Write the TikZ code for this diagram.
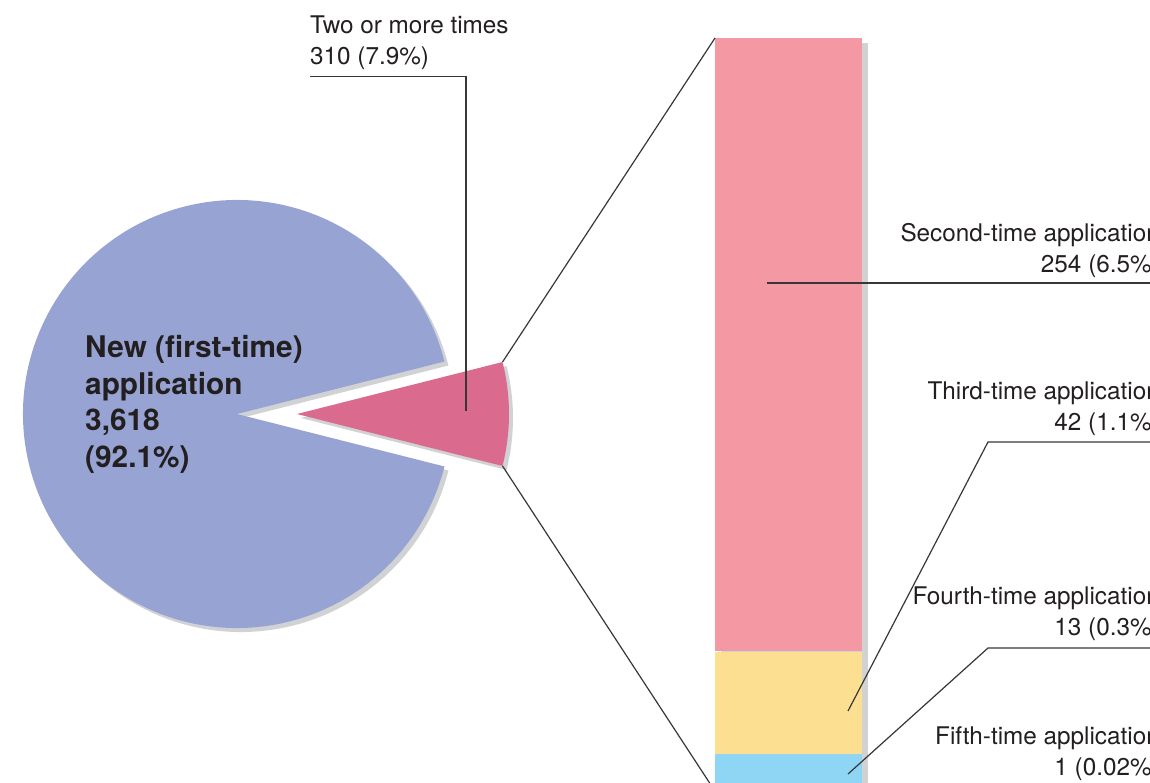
\documentclass[tikz,border=0pt]{standalone}
\usepackage{fontspec}
\setmainfont{TeX Gyre Heros}
\usepackage{xcolor}
\usepackage{tikz}
\usetikzlibrary{positioning}

\definecolor{pieblue}{RGB}{151,164,211}
\definecolor{piepink}{RGB}{219,107,142}
\definecolor{barpink}{RGB}{244,152,164}
\definecolor{baryellow}{RGB}{253,223,145}
\definecolor{barblue}{RGB}{143,214,244}
\definecolor{shadowgray}{RGB}{209,210,212}
\definecolor{txt}{RGB}{35,31,32}
\definecolor{leadgray}{RGB}{55,55,55}

\begin{document}
\begin{tikzpicture}[x=1pt, y=1pt,
	lbl/.style={font=\fontsize{24.3}{31}\selectfont, text=txt, inner sep=0pt},
	biglbl/.style={font=\fontsize{29.8}{36.5}\selectfont\bfseries, text=txt, inner sep=0pt, align=left},
	lead/.style={draw=leadgray, line width=1.2pt},
	segment/.style={inner sep=0pt, minimum width=147, anchor=north west}]
	\useasboundingbox (0,0) rectangle (1150,-783);
	\clip (0,0) rectangle (1150,-783);
	% pie
	\coordinate (newc) at (237,-414);
	\coordinate (twoc) at (297,-414);
	\fill[shadowgray] ([shift={(4,-4)}]newc) -- ++(14.2:214) arc[start angle=14.2, end angle=345.8, radius=214] -- cycle;
	\fill[shadowgray] ([shift={(4,-4)}]twoc) -- ++(-14.2:212) arc[start angle=-14.2, end angle=14.2, radius=212] -- cycle;
	\fill[pieblue] (newc) -- ++(14.2:214) arc[start angle=14.2, end angle=345.8, radius=214] -- cycle;
	\fill[piepink] (twoc) -- ++(-14.2:212) coordinate (twolo) arc[start angle=-14.2, end angle=14.2, radius=212] coordinate (twohi) -- cycle;
	% bar
	\fill[shadowgray] (721,-43) rectangle (868,-800);
	\node[segment, fill=barpink, minimum height=613] (bar2) at (715,-38) {};
	\node[segment, fill=baryellow, minimum height=102, below=0pt of bar2] (bar3) {};
	\node[segment, fill=barblue, minimum height=37, below=0pt of bar3] (bar4) {};
	\draw[lead] (twohi) -- (bar2.north west);
	\draw[lead] (twolo) -- (bar4.south west);
	% labels
	\node[biglbl, anchor=base west] (newlbl) at (85,-467) {New (first-time)\\application\\3,618\\(92.1\%)};
	\node[lbl, align=left, anchor=base west] (twolbl) at (310,-65) {Two or more times\\310 (7.9\%)};
	\node[lbl, align=right, anchor=base east] (lbl2) at (1160,-273) {Second-time application\\254 (6.5\%)};
	\node[lbl, align=right, anchor=base east] (lbl3) at (1160,-430) {Third-time application\\42 (1.1\%)};
	\node[lbl, align=right, anchor=base east] (lbl4) at (1160,-635) {Fourth-time application\\13 (0.3\%)};
	\node[lbl, align=right, anchor=base east] (lbl5) at (1160,-775) {Fifth-time application\\1 (0.02\%)};
	% leaders
	\coordinate (twotip) at (466,-411);
	\coordinate (tip2) at (767,-283);
	\coordinate (tip3) at (848,-711);
	\coordinate (tip4) at (848,-774);
	\draw[lead] ([yshift=-6]twolbl.south west) -| (twotip);
	\draw[lead] (tip2) -- (tip2 -| lbl2.east);
	\draw[lead] (tip3) -- (988,-442) -- (lbl3.south east |- 988,-442);
	\draw[lead] (tip4) -- (988,-648) -- (lbl4.south east |- 988,-648);
\end{tikzpicture}
\end{document}
